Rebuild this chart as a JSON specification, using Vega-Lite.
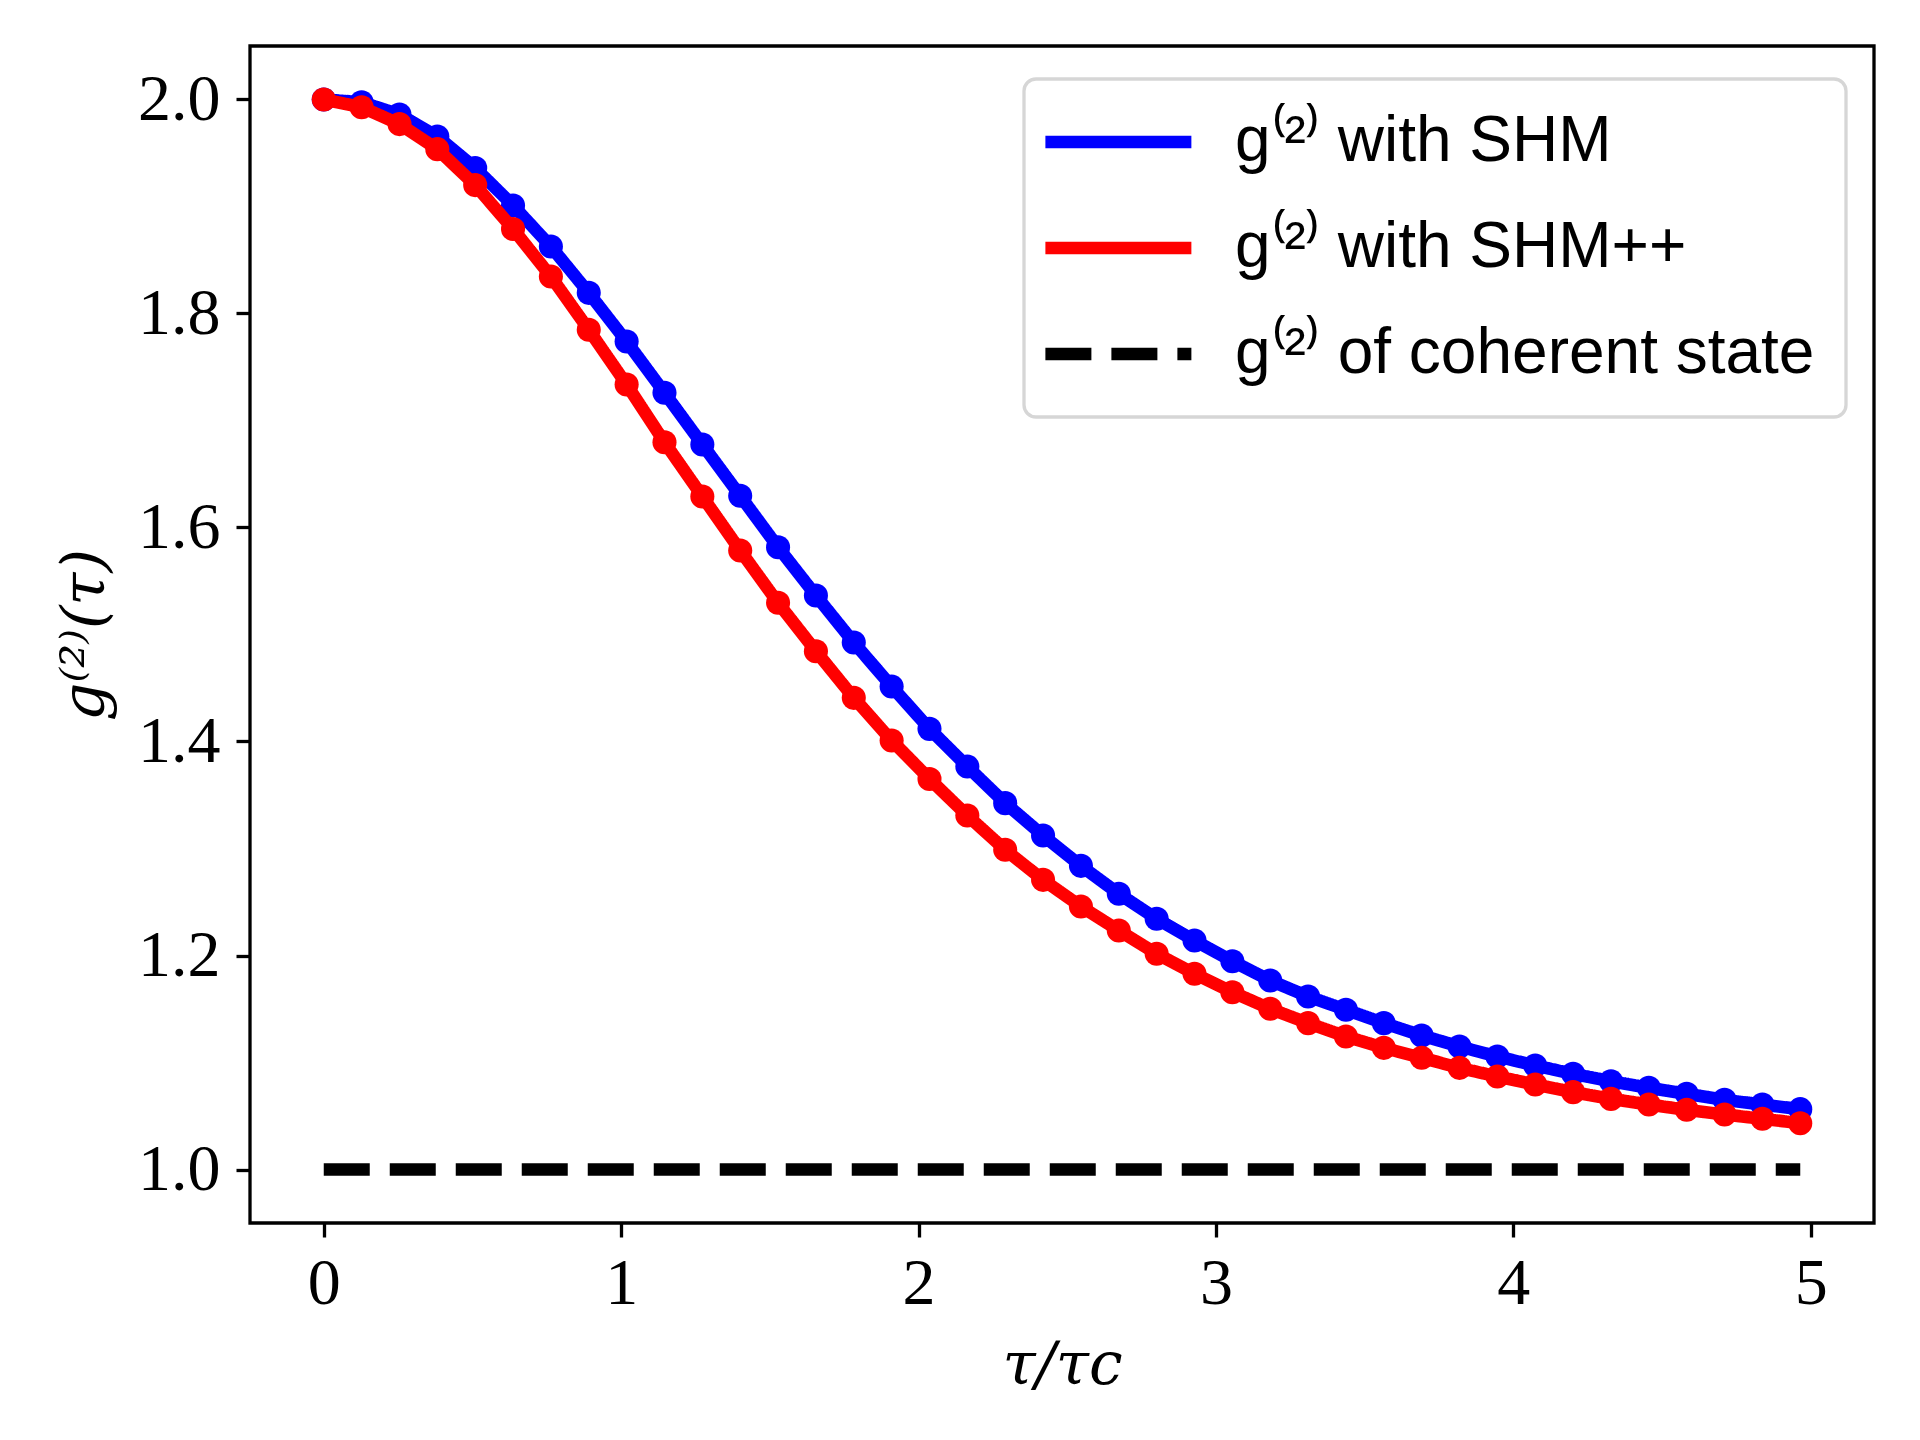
{
  "$schema": "https://vega.github.io/schema/vega-lite/v6.json",
  "width": 1624,
  "height": 1177,
  "autosize": {"type": "none"},
  "padding": {"left": 250, "top": 46, "right": 46, "bottom": 217},
  "background": "white",
  "datasets": {
    "curves": [
      {"t": 0, "g": 2.0, "series": "g⁽²⁾ with SHM"},
      {"t": 0.1273, "g": 1.9975, "series": "g⁽²⁾ with SHM"},
      {"t": 0.2546, "g": 1.986, "series": "g⁽²⁾ with SHM"},
      {"t": 0.3819, "g": 1.9654, "series": "g⁽²⁾ with SHM"},
      {"t": 0.5092, "g": 1.936, "series": "g⁽²⁾ with SHM"},
      {"t": 0.6365, "g": 1.901, "series": "g⁽²⁾ with SHM"},
      {"t": 0.7638, "g": 1.8626, "series": "g⁽²⁾ with SHM"},
      {"t": 0.8911, "g": 1.8193, "series": "g⁽²⁾ with SHM"},
      {"t": 1.0185, "g": 1.7738, "series": "g⁽²⁾ with SHM"},
      {"t": 1.1458, "g": 1.7259, "series": "g⁽²⁾ with SHM"},
      {"t": 1.2731, "g": 1.6776, "series": "g⁽²⁾ with SHM"},
      {"t": 1.4004, "g": 1.6296, "series": "g⁽²⁾ with SHM"},
      {"t": 1.5277, "g": 1.5816, "series": "g⁽²⁾ with SHM"},
      {"t": 1.655, "g": 1.5364, "series": "g⁽²⁾ with SHM"},
      {"t": 1.7823, "g": 1.4925, "series": "g⁽²⁾ with SHM"},
      {"t": 1.9096, "g": 1.4514, "series": "g⁽²⁾ with SHM"},
      {"t": 2.0369, "g": 1.4118, "series": "g⁽²⁾ with SHM"},
      {"t": 2.1642, "g": 1.3766, "series": "g⁽²⁾ with SHM"},
      {"t": 2.2915, "g": 1.3424, "series": "g⁽²⁾ with SHM"},
      {"t": 2.4188, "g": 1.3121, "series": "g⁽²⁾ with SHM"},
      {"t": 2.5462, "g": 1.2838, "series": "g⁽²⁾ with SHM"},
      {"t": 2.6735, "g": 1.2577, "series": "g⁽²⁾ with SHM"},
      {"t": 2.8008, "g": 1.2343, "series": "g⁽²⁾ with SHM"},
      {"t": 2.9281, "g": 1.214, "series": "g⁽²⁾ with SHM"},
      {"t": 3.0554, "g": 1.1947, "series": "g⁽²⁾ with SHM"},
      {"t": 3.1827, "g": 1.1766, "series": "g⁽²⁾ with SHM"},
      {"t": 3.31, "g": 1.1617, "series": "g⁽²⁾ with SHM"},
      {"t": 3.4373, "g": 1.1493, "series": "g⁽²⁾ with SHM"},
      {"t": 3.5646, "g": 1.1368, "series": "g⁽²⁾ with SHM"},
      {"t": 3.6919, "g": 1.1252, "series": "g⁽²⁾ with SHM"},
      {"t": 3.8192, "g": 1.115, "series": "g⁽²⁾ with SHM"},
      {"t": 3.9465, "g": 1.1056, "series": "g⁽²⁾ with SHM"},
      {"t": 4.0738, "g": 1.0972, "series": "g⁽²⁾ with SHM"},
      {"t": 4.2012, "g": 1.0894, "series": "g⁽²⁾ with SHM"},
      {"t": 4.3285, "g": 1.0825, "series": "g⁽²⁾ with SHM"},
      {"t": 4.4558, "g": 1.0763, "series": "g⁽²⁾ with SHM"},
      {"t": 4.5831, "g": 1.0707, "series": "g⁽²⁾ with SHM"},
      {"t": 4.7104, "g": 1.0651, "series": "g⁽²⁾ with SHM"},
      {"t": 4.8377, "g": 1.0607, "series": "g⁽²⁾ with SHM"},
      {"t": 4.965, "g": 1.0564, "series": "g⁽²⁾ with SHM"},
      {"t": 0, "g": 2.0, "series": "g⁽²⁾ with SHM++"},
      {"t": 0.1273, "g": 1.9928, "series": "g⁽²⁾ with SHM++"},
      {"t": 0.2546, "g": 1.977, "series": "g⁽²⁾ with SHM++"},
      {"t": 0.3819, "g": 1.9536, "series": "g⁽²⁾ with SHM++"},
      {"t": 0.5092, "g": 1.92, "series": "g⁽²⁾ with SHM++"},
      {"t": 0.6365, "g": 1.879, "series": "g⁽²⁾ with SHM++"},
      {"t": 0.7638, "g": 1.8346, "series": "g⁽²⁾ with SHM++"},
      {"t": 0.8911, "g": 1.7848, "series": "g⁽²⁾ with SHM++"},
      {"t": 1.0185, "g": 1.7336, "series": "g⁽²⁾ with SHM++"},
      {"t": 1.1458, "g": 1.6797, "series": "g⁽²⁾ with SHM++"},
      {"t": 1.2731, "g": 1.629, "series": "g⁽²⁾ with SHM++"},
      {"t": 1.4004, "g": 1.5785, "series": "g⁽²⁾ with SHM++"},
      {"t": 1.5277, "g": 1.5296, "series": "g⁽²⁾ with SHM++"},
      {"t": 1.655, "g": 1.4844, "series": "g⁽²⁾ with SHM++"},
      {"t": 1.7823, "g": 1.4408, "series": "g⁽²⁾ with SHM++"},
      {"t": 1.9096, "g": 1.401, "series": "g⁽²⁾ with SHM++"},
      {"t": 2.0369, "g": 1.365, "series": "g⁽²⁾ with SHM++"},
      {"t": 2.1642, "g": 1.3308, "series": "g⁽²⁾ with SHM++"},
      {"t": 2.2915, "g": 1.2988, "series": "g⁽²⁾ with SHM++"},
      {"t": 2.4188, "g": 1.2707, "series": "g⁽²⁾ with SHM++"},
      {"t": 2.5462, "g": 1.2458, "series": "g⁽²⁾ with SHM++"},
      {"t": 2.6735, "g": 1.2234, "series": "g⁽²⁾ with SHM++"},
      {"t": 2.8008, "g": 1.2016, "series": "g⁽²⁾ with SHM++"},
      {"t": 2.9281, "g": 1.1829, "series": "g⁽²⁾ with SHM++"},
      {"t": 3.0554, "g": 1.1657, "series": "g⁽²⁾ with SHM++"},
      {"t": 3.1827, "g": 1.1502, "series": "g⁽²⁾ with SHM++"},
      {"t": 3.31, "g": 1.1368, "series": "g⁽²⁾ with SHM++"},
      {"t": 3.4373, "g": 1.1243, "series": "g⁽²⁾ with SHM++"},
      {"t": 3.5646, "g": 1.1137, "series": "g⁽²⁾ with SHM++"},
      {"t": 3.6919, "g": 1.1044, "series": "g⁽²⁾ with SHM++"},
      {"t": 3.8192, "g": 1.095, "series": "g⁽²⁾ with SHM++"},
      {"t": 3.9465, "g": 1.0869, "series": "g⁽²⁾ with SHM++"},
      {"t": 4.0738, "g": 1.0794, "series": "g⁽²⁾ with SHM++"},
      {"t": 4.2012, "g": 1.0723, "series": "g⁽²⁾ with SHM++"},
      {"t": 4.3285, "g": 1.066, "series": "g⁽²⁾ with SHM++"},
      {"t": 4.4558, "g": 1.0607, "series": "g⁽²⁾ with SHM++"},
      {"t": 4.5831, "g": 1.0558, "series": "g⁽²⁾ with SHM++"},
      {"t": 4.7104, "g": 1.0514, "series": "g⁽²⁾ with SHM++"},
      {"t": 4.8377, "g": 1.0474, "series": "g⁽²⁾ with SHM++"},
      {"t": 4.965, "g": 1.0433, "series": "g⁽²⁾ with SHM++"},
      {"t": 0, "g": 1.0, "series": "g⁽²⁾ of coherent state"},
      {"t": 4.965, "g": 1.0, "series": "g⁽²⁾ of coherent state"}
    ]
  },
  "data": {"name": "curves"},
  "encoding": {
    "x": {
      "field": "t", "type": "quantitative",
      "scale": {"domain": [-0.248, 5.213], "nice": false, "zero": false},
      "axis": {"values": [0, 1, 2, 3, 4, 5], "format": "d", "title": "τ/τc", "titleY": 160, "titleBaseline": "alphabetic", "titleFontStyle": "italic", "labelPadding": 14}
    },
    "y": {
      "field": "g", "type": "quantitative",
      "scale": {"domain": [0.95, 2.05], "nice": false, "zero": false},
      "axis": {"values": [1.0, 1.2, 1.4, 1.6, 1.8, 2.0], "format": ".1f", "title": "g⁽²⁾(τ)", "titleX": -147, "titleBaseline": "alphabetic", "titleAngle": 270, "titleFontStyle": "italic", "labelPadding": 16}
    }
  },
  "layer": [
    {
      "transform": [{"filter": "datum.series === 'g⁽²⁾ with SHM'"}],
      "mark": {"type": "line", "strokeWidth": 12.5, "strokeCap": "square", "strokeJoin": "round"},
      "encoding": {
        "color": {"field": "series", "type": "nominal", "sort": null,
          "scale": {"domain": ["g⁽²⁾ with SHM", "g⁽²⁾ with SHM++", "g⁽²⁾ of coherent state"], "range": ["#0000ff", "#ff0000", "#000000"]},
          "legend": {"title": null}},
        "strokeDash": {"field": "series", "type": "nominal", "sort": null,
          "scale": {"domain": ["g⁽²⁾ with SHM", "g⁽²⁾ with SHM++", "g⁽²⁾ of coherent state"], "range": [[1, 0], [1, 0], [46, 20]]},
          "legend": {"title": null}}
      }
    },
    {
      "transform": [{"filter": "datum.series === 'g⁽²⁾ with SHM'"}],
      "mark": {"type": "circle", "size": 580, "opacity": 1, "strokeWidth": 0},
      "encoding": {
        "fill": {"field": "series", "type": "nominal",
          "scale": {"domain": ["g⁽²⁾ with SHM", "g⁽²⁾ with SHM++"], "range": ["#0000ff", "#ff0000"]},
          "legend": null}
      }
    },
    {
      "transform": [{"filter": "datum.series === 'g⁽²⁾ with SHM++'"}],
      "mark": {"type": "line", "strokeWidth": 12.5, "strokeCap": "square", "strokeJoin": "round"},
      "encoding": {
        "color": {"field": "series", "type": "nominal", "sort": null},
        "strokeDash": {"field": "series", "type": "nominal", "sort": null}
      }
    },
    {
      "transform": [{"filter": "datum.series === 'g⁽²⁾ with SHM++'"}],
      "mark": {"type": "circle", "size": 580, "opacity": 1, "strokeWidth": 0},
      "encoding": {
        "fill": {"field": "series", "type": "nominal"}
      }
    },
    {
      "transform": [{"filter": "datum.series === 'g⁽²⁾ of coherent state'"}],
      "mark": {"type": "line", "strokeWidth": 12.5, "strokeCap": "butt"},
      "encoding": {
        "color": {"field": "series", "type": "nominal", "sort": null},
        "strokeDash": {"field": "series", "type": "nominal", "sort": null}
      }
    }
  ],
  "config": {
    "view": {"stroke": "#000000", "strokeWidth": 3.3},
    "axis": {
      "domain": false, "grid": false,
      "ticks": true, "tickSize": 14, "tickWidth": 3.3, "tickColor": "#000000",
      "labelFont": "Liberation Serif", "labelFontSize": 66, "labelColor": "#000000",
      "titleFont": "DejaVu Serif", "titleFontSize": 60, "titleFontWeight": "normal", "titleColor": "#000000"
    },
    "legend": {
      "orient": "none", "legendX": 774, "legendY": 33,
      "fillColor": "#ffffff", "strokeColor": "#d6d6d6", "strokeWidth": 3.3, "cornerRadius": 12,
      "padding": 31, "symbolType": "M-2.28,0H5.72", "symbolSize": 1332, "symbolStrokeWidth": 12.5,
      "labelFont": "Liberation Sans", "labelFontSize": 64, "labelColor": "#000000",
      "labelOffset": 116, "rowPadding": 42, "labelLimit": 0
    }
  }
}
